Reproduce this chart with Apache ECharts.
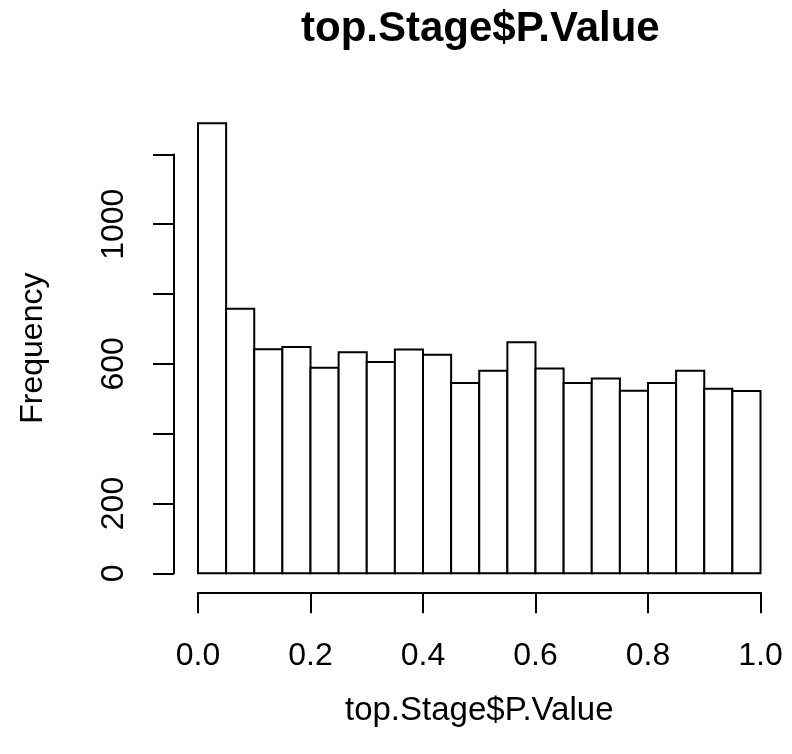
<!DOCTYPE html>
<html>
<head>
<meta charset="utf-8">
<script src="https://cdn.jsdelivr.net/npm/echarts@6/dist/echarts.min.js"></script>
<style>html,body{margin:0;padding:0;background:#fff}#c{width:792px;height:754px}</style>
</head>
<body>
<div id="c"></div>
<script>
// Histogram bin edges (start of each 0.05-wide bin) and counts
var binStarts = [0.00,0.05,0.10,0.15,0.20,0.25,0.30,0.35,0.40,0.45,0.50,0.55,0.60,0.65,0.70,0.75,0.80,0.85,0.90,0.95];
var binWidth = 0.05;
var counts = [1289,758,642,648,589,633,605,641,626,545,580,662,587,545,558,523,545,580,529,522];
var xTicks = [0.0,0.2,0.4,0.6,0.8,1.0];
var yTicks = [0,200,400,600,800,1000,1200];
var yLabels = [0,200,600,1000];

var data = counts.map(function(c,i){ return [binStarts[i], binStarts[i]+binWidth, c]; });

var FONT = '"Liberation Sans", Arial, sans-serif';
var chart = echarts.init(document.getElementById('c'), null, {renderer:'canvas'});
var plotLeft = 198, plotW = 562.5, plotBottom = 573.3;
var yMaxBars = 1290, plotH = 450.3;
var pxPerUnit = plotH / yMaxBars;
var axisH = 1200 * pxPerUnit;

chart.setOption({
  animation:false,
  backgroundColor:'#fff',
  title:{text:'top.Stage$P.Value', left:296, top:3,
    textStyle:{fontFamily:FONT, fontSize:42, fontWeight:'bold', color:'#000'}},
  grid:[
    {left:plotLeft, width:plotW, top:plotBottom-plotH, height:plotH},
    {left:plotLeft, width:plotW, top:plotBottom-axisH, height:axisH}
  ],
  xAxis:[
    {gridIndex:0, type:'value', min:0, max:1, interval:0.2, offset:19,
     axisLine:{show:true, onZero:false, lineStyle:{color:'#000', width:2}},
     axisTick:{show:true, length:21, customValues:xTicks, lineStyle:{color:'#000', width:2}},
     axisLabel:{margin:48, fontFamily:FONT, fontSize:32, color:'#000', customValues:xTicks,
       formatter:function(v){return Number(v).toFixed(1);}},
     splitLine:{show:false},
     name:'top.Stage$P.Value', nameLocation:'middle', nameGap:102,
     nameTextStyle:{fontFamily:FONT, fontSize:33, color:'#000'}},
    {gridIndex:1, type:'value', min:0, max:1, show:false}
  ],
  yAxis:[
    {gridIndex:0, type:'value', min:0, max:yMaxBars, offset:24,
     axisLine:{show:false, onZero:false}, axisTick:{show:false}, axisLabel:{show:false},
     splitLine:{show:false},
     name:'Frequency', nameLocation:'middle', nameGap:125, nameRotate:90,
     nameTextStyle:{fontFamily:FONT, fontSize:32, color:'#000'}},
    {gridIndex:1, type:'value', min:0, max:1200, interval:200, offset:24,
     axisLine:{show:true, onZero:false, lineStyle:{color:'#000', width:2}},
     axisTick:{show:true, length:21, customValues:yTicks, lineStyle:{color:'#000', width:2}},
     axisLabel:{margin:44, rotate:90, fontFamily:FONT, fontSize:32, color:'#000', customValues:yLabels,
       formatter:function(v){return String(v);}},
     splitLine:{show:false}}
  ],
  series:[{
    type:'custom', xAxisIndex:0, yAxisIndex:0, data:data,
    renderItem:function(params, api){
      var p0 = api.coord([api.value(0), 0]);
      var p1 = api.coord([api.value(1), api.value(2)]);
      return {type:'rect', shape:{x:p0[0], y:p1[1], width:p1[0]-p0[0], height:p0[1]-p1[1]},
        style:{fill:'#fff', stroke:'#000', lineWidth:2}};
    }
  }]
});
</script>
</body>
</html>
